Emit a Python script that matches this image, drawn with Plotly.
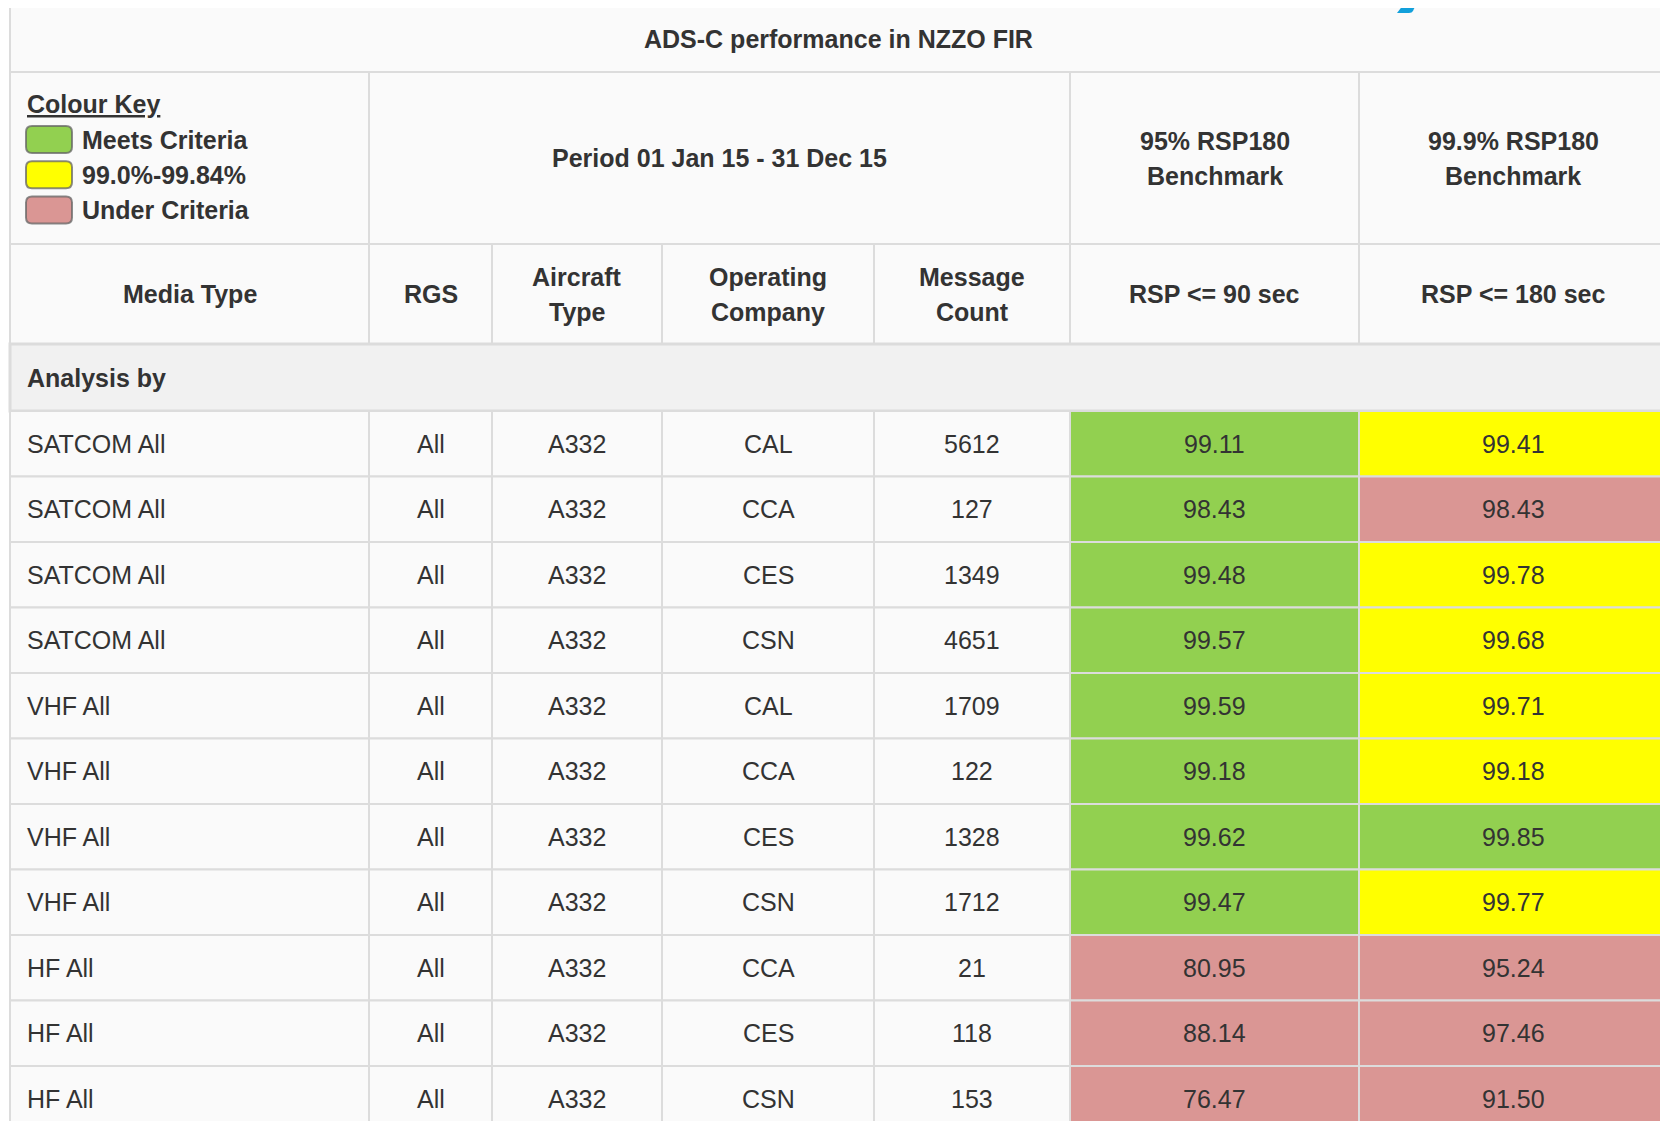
import plotly.graph_objects as go

# ---------------- data ----------------
title = "ADS-C performance in NZZO FIR"
period = "Period 01 Jan 15 - 31 Dec 15"
bench_labels = ["95% RSP180\nBenchmark", "99.9% RSP180\nBenchmark"]
header_labels = ["Media Type", "RGS", "Aircraft\nType", "Operating\nCompany",
                 "Message\nCount", "RSP &lt;= 90 sec", "RSP &lt;= 180 sec"]
section_label = "Analysis by"
key_title = "Colour Key"
key_labels = ["Meets Criteria", "99.0%-99.84%", "Under Criteria"]

media = ["SATCOM All"] * 4 + ["VHF All"] * 4 + ["HF All"] * 3
rgs = ["All"] * 11
aircraft = ["A332"] * 11
company = ["CAL", "CCA", "CES", "CSN", "CAL", "CCA", "CES", "CSN", "CCA", "CES", "CSN"]
msg_count = [5612, 127, 1349, 4651, 1709, 122, 1328, 1712, 21, 118, 153]
rsp90 = [99.11, 98.43, 99.48, 99.57, 99.59, 99.18, 99.62, 99.47, 80.95, 88.14, 76.47]
rsp180 = [99.41, 98.43, 99.78, 99.68, 99.71, 99.18, 99.85, 99.77, 95.24, 97.46, 91.50]

# ---------------- style / layout ----------------
W, H = 1668, 1129
PAGE_OFF = 8  # default body margin of the html page
col_edges = [10, 369, 492, 662, 874, 1070, 1359, 1667]
y_top, y_title, y_key, y_head, y_sec = 5, 72, 244, 344, 411
row_h = 65.5

GREEN, YELLOW, PINK = "#92D050", "#FFFF00", "#DA9694"
key_colors = [GREEN, YELLOW, PINK]
CELL_BG, SEC_BG, LINE = "#FAFAFA", "#F1F1F1", "#DCDCDC"
TXT = "#333333"
FONT = "Liberation Sans, Arial, sans-serif"
FS = 25


def status90(v):
    return GREEN if v >= 95 else PINK


def status180(v):
    if v >= 99.85:
        return GREEN
    if v >= 99.0:
        return YELLOW
    return PINK


shapes = []
ann = []


def cell(x0, x1, y0, y1, fill=CELL_BG, lw=2):
    shapes.append(dict(type="rect", xref="x", yref="y", x0=x0, x1=x1, y0=y0, y1=y1,
                       fillcolor=fill, line=dict(color=LINE, width=lw), layer="below"))


def text(x, y, s, bold=False, anchor="center", size=FS, spacing=35, **kw):
    lines = s.split("\n")
    n = len(lines)
    for i, ln in enumerate(lines):
        yy = y + (i - (n - 1) / 2) * spacing
        ann.append(dict(x=x, y=yy, xref="x", yref="y", text=f"<b>{ln}</b>" if bold else ln,
                        showarrow=False, xanchor=anchor, yanchor="middle",
                        font=dict(family=FONT, size=size, color=TXT, **kw)))


ce = col_edges
cx = [(ce[i] + ce[i + 1]) / 2 for i in range(len(ce) - 1)]

# title row
cell(ce[0], ce[-1], y_top, y_title)
text((ce[0] + ce[-1]) / 2, (y_top + y_title) / 2, title, bold=True)

# colour key / period / benchmark row
cell(ce[0], ce[1], y_title, y_key)
cell(ce[1], ce[5], y_title, y_key)
cell(ce[5], ce[6], y_title, y_key)
cell(ce[6], ce[7], y_title, y_key)
text((ce[1] + ce[5]) / 2, (y_title + y_key) / 2, period, bold=True)
text(cx[5], (y_title + y_key) / 2, bench_labels[0], bold=True)
text(cx[6], (y_title + y_key) / 2, bench_labels[1], bold=True)

text(ce[0] + 15, 104, key_title, bold=True, anchor="left", lineposition="under")
for i, (lab, col) in enumerate(zip(key_labels, key_colors)):
    yc = 139.5 + i * 35.3
    x0, x1, y0, y1, r = 26, 72, yc - 13.5, yc + 13.5, 6
    path = (f"M {x0+r},{y0} L {x1-r},{y0} Q {x1},{y0} {x1},{y0+r} L {x1},{y1-r} "
            f"Q {x1},{y1} {x1-r},{y1} L {x0+r},{y1} Q {x0},{y1} {x0},{y1-r} "
            f"L {x0},{y0+r} Q {x0},{y0} {x0+r},{y0} Z")
    shapes.append(dict(type="path", path=path, xref="x", yref="y", fillcolor=col,
                       line=dict(color="rgba(100,100,100,0.75)", width=2)))
    text(80, yc, lab, bold=True, anchor="left")

# header row
for i, lab in enumerate(header_labels):
    cell(ce[i], ce[i + 1], y_key, y_head)
    text(cx[i], (y_key + y_head) / 2, lab, bold=True)

# section row
cell(ce[0], ce[-1], y_head, y_sec, fill=SEC_BG, lw=3)
text(ce[0] + 15, (y_head + y_sec) / 2, section_label, bold=True, anchor="left")

# data rows
for r in range(len(media)):
    y0 = y_sec + r * row_h
    y1 = y0 + row_h
    ym = (y0 + y1) / 2
    vals = [media[r], rgs[r], aircraft[r], company[r], str(msg_count[r]),
            f"{rsp90[r]:.2f}", f"{rsp180[r]:.2f}"]
    fills = [CELL_BG] * 5 + [status90(rsp90[r]), status180(rsp180[r])]
    for c in range(7):
        cell(ce[c], ce[c + 1], y0, y1, fill=fills[c])
        if c == 0:
            text(ce[0] + 15, ym, vals[c], anchor="left")
        else:
            text(cx[c], ym, vals[c])

# decorative blue fragment at the top crop edge
shapes.append(dict(type="path", xref="x", yref="y", fillcolor="#12A0DB", line=dict(width=0),
                   path="M 1407,0 L 1418,0 L 1413,11 Q 1412,13 1409,13 L 1397,13 Z"))

fig = go.Figure()
fig.update_layout(
    width=W - PAGE_OFF, height=H - 2 * PAGE_OFF, margin=dict(l=0, r=0, t=0, b=0),
    paper_bgcolor="white", plot_bgcolor="white",
    xaxis=dict(range=[PAGE_OFF, W], visible=False, fixedrange=True),
    yaxis=dict(range=[H - PAGE_OFF, PAGE_OFF], visible=False, fixedrange=True),
    shapes=shapes, annotations=ann, showlegend=False,
)
fig.write_html("out.html")
